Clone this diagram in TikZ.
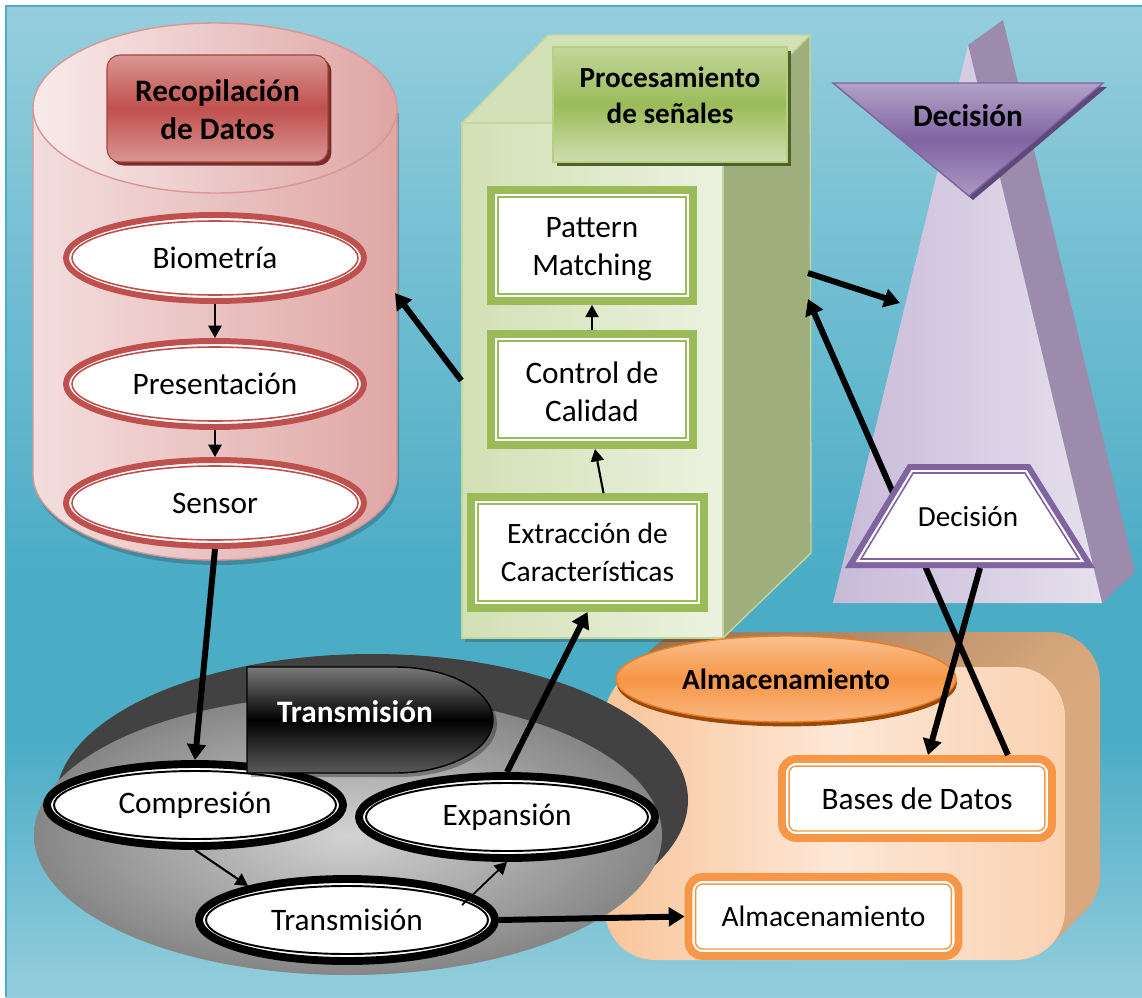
\documentclass[tikz,border=0pt]{standalone}
\usepackage{fontspec}
\setmainfont{Carlito}
\usetikzlibrary{arrows.meta,shadows,calc,shapes.geometric}

\definecolor{bgLight}{HTML}{95CEDD}
\definecolor{bgDark}{HTML}{4BACC6}
\definecolor{redMain}{HTML}{C0504D}
\definecolor{redLight}{HTML}{D99694}
\definecolor{redDark}{HTML}{7A2D2B}
\definecolor{cylA}{HTML}{F3DEDD}
\definecolor{cylB}{HTML}{DFA7A6}
\definecolor{greenMain}{HTML}{9BBB59}
\definecolor{greenLight}{HTML}{C3D69B}
\definecolor{greenPale}{HTML}{ECF2E0}
\definecolor{greenFrontL}{HTML}{D2E0B5}
\definecolor{greenTop}{HTML}{D3E1B8}
\definecolor{greenSide}{HTML}{9EAE7C}
\definecolor{greenDark}{HTML}{4F6228}
\definecolor{purpleMain}{HTML}{8064A2}
\definecolor{purpleLight}{HTML}{B3A2C7}
\definecolor{purpleDark}{HTML}{5F497A}
\definecolor{pyrFront}{HTML}{E6E0ED}
\definecolor{pyrEdge}{HTML}{C7BAD8}
\definecolor{pyrSide}{HTML}{9D8BAE}
\definecolor{orangeMain}{HTML}{F79646}
\definecolor{orangeLight}{HTML}{FAC090}
\definecolor{orangeDark}{HTML}{E46C0A}
\definecolor{orangeShadow}{HTML}{984807}
\definecolor{peachA}{HTML}{F9C59A}
\definecolor{peachB}{HTML}{FDE7D6}
\definecolor{peachC}{HTML}{FAD2B2}
\definecolor{brownA}{HTML}{94704F}
\definecolor{brownB}{HTML}{D9A87E}
\definecolor{discDark}{HTML}{424242}
\definecolor{discLight}{HTML}{D3D3D3}
\definecolor{discEdge}{HTML}{868686}
\definecolor{hdrGrayTop}{HTML}{7A7A7A}
\definecolor{hdrGrayBot}{HTML}{5A5A5A}

% backdrop: light at the top, deepest teal in the lower third, light again at the bottom
\pgfdeclareverticalshading{backdrop}{100bp}{color(0bp)=(bgLight); color(25bp)=(bgLight);
  color(38bp)=(bgDark); color(46bp)=(bgDark); color(75bp)=(bgLight); color(100bp)=(bgLight)}

\tikzset{
  txt/.style={font=\fontsize{17.8}{21.5}\selectfont, align=center, text=black},
  hdr/.style={font=\bfseries\fontsize{17.8}{21.5}\selectfont, align=center, text=black},
  arrowThick/.style={line width=3.4pt, -{Triangle[length=9pt,width=10.5pt]}},
  arrowThin/.style={line width=1.2pt, -{Triangle[length=7pt,width=7.5pt]}},
  redOval/.style={ellipse, draw=redMain, line width=3.4pt, fill=white,
    minimum width=5.96cm, minimum height=1.72cm, inner sep=0pt, txt},
  blackOval/.style={ellipse, draw=black, line width=4.5pt, fill=white,
    minimum width=5.92cm, minimum height=1.64cm, inner sep=0pt, txt},
  greenBox/.style={rectangle, draw=greenMain, line width=4.5pt, fill=white,
    minimum width=4.04cm, minimum height=2.22cm, inner sep=0pt, txt},
  orangeBox/.style={rectangle, rounded corners=0.28cm, draw=orangeMain, line width=4.5pt,
    fill=white, minimum width=5.4cm, minimum height=1.58cm, inner sep=0pt, txt},
  redHdr/.style={rectangle, rounded corners=0.26cm, minimum width=4.42cm, minimum height=2.14cm,
    top color=redLight, bottom color=redLight, middle color=redMain,
    draw=redMain!85!black, line width=0.6pt,
    drop shadow={shadow xshift=2pt, shadow yshift=-2pt, fill=redDark, opacity=1}},
  greenHdr/.style={rectangle, minimum width=4.68cm, minimum height=2.3cm,
    top color=greenLight, bottom color=greenLight!80!white, middle color=greenMain,
    draw=greenLight!70!greenMain, line width=0.8pt,
    drop shadow={shadow xshift=2pt, shadow yshift=-2pt, fill=greenDark, opacity=1}},
  orangeHdr/.style={ellipse, minimum width=6.8cm, minimum height=1.72cm, inner sep=0pt,
    top color=orangeLight, bottom color=orangeLight!80!orangeMain, middle color=orangeMain,
    draw=orangeDark!60!orangeMain, line width=0.8pt,
    drop shadow={shadow xshift=0.5pt, shadow yshift=-2.5pt, fill=orangeShadow, opacity=1},
    hdr, font=\bfseries\fontsize{16.7}{20}\selectfont},
  procFace/.style={rectangle, minimum width=5.22cm, minimum height=10.3cm, inner sep=0pt,
    left color=greenFrontL, right color=greenPale, draw=greenLight, line width=0.8pt},
}

\begin{document}
\begin{tikzpicture}[x=0.02cm,y=-0.02cm]
\useasboundingbox (0,0) rectangle (1142,997);
\fill[white] (0,0) rectangle (1142,997);
\shade[shading=backdrop] (6,6) rectangle (1142,997);
\draw[bgDark, line width=1.2pt] (6,997) -- (6,6) -- (1142,6);

% ---------- storage block: extruded rounded slab ----------
\foreach \k in {35,33,...,1} {
  \shade[left color=brownA, right color=brownB, rounded corners=1cm]
    (605+\k,667-\k) rectangle ++(460,293);
}
\shade[left color=peachA, right color=peachC, middle color=peachB, rounded corners=1cm]
  (605,667) rectangle (1065,960);

% ---------- data acquisition cylinder ----------
\fill[black, opacity=.2] (35,113) -- (35,480) arc[start angle=180, end angle=0, x radius=182, y radius=85] -- (399,113) -- cycle;
\shade[left color=cylA, right color=cylB, draw=redLight, line width=.8pt]
  (33,108) -- (33,475) arc[start angle=180, end angle=0, x radius=182, y radius=85] -- (397,108) -- cycle;
\shade[left color=cylA!60!white, right color=cylB!90!redLight, draw=redLight, line width=.8pt]
  (215,108) ellipse [x radius=182, y radius=85];
\coordinate (cylR) at (395,293);

\node[redHdr] (recHdr) at (217.5,108.5) {};
\node[hdr] (recText) at (217.5,110) {Recopilación\\de Datos};

\node[redOval] (bio) at (215,258) {Biometría};
\draw[redMain, line width=0.9pt] (bio.center) ellipse [x radius=143, y radius=37];
\node[redOval] (pres) at (215,384) {Presentación};
\draw[redMain, line width=0.9pt] (pres.center) ellipse [x radius=143, y radius=37];
\node[redOval] (sens) at (215,503) {Sensor};
\draw[redMain, line width=0.9pt] (sens.center) ellipse [x radius=143, y radius=37];

% ---------- signal processing block ----------
\fill[greenTop, draw=greenLight, line width=.8pt] (462,123) -- (548,35) -- (810,35) -- (723,123) -- cycle;
\fill[greenSide, draw=greenLight, line width=.8pt] (723,123) -- (810,35) -- (811,553) -- (723,638) -- cycle;
\fill[black, opacity=.2] (465,638) rectangle (726,642);
\node[procFace] (procF) at (592.5,380.5) {};
\coordinate (procS1) at (808,273);
\coordinate (procS2) at (808,299);

\node[greenHdr] (procHdr) at (670,104.5) {};
\node[hdr, font=\bfseries\fontsize{16.6}{20.5}\selectfont] (procText) at (670,95) {Procesamiento\\de señales};

\node[greenBox] (patt) at (592,245.5) {};
\node[txt] (pattText) at (592,249) {Pattern\\Matching};
\draw[greenMain, line width=0.8pt] ([shift={(11,11)}]patt.north west) rectangle ([shift={(-11,-11)}]patt.south east);
\node[greenBox] (ctrl) at (592,389.5) {};
\node[txt] (ctrlText) at (592,392) {Control de\\Calidad};
\draw[greenMain, line width=0.8pt] ([shift={(11,11)}]ctrl.north west) rectangle ([shift={(-11,-11)}]ctrl.south east);
\node[greenBox, minimum width=4.66cm, font=\fontsize{16.8}{21.5}\selectfont] (extr) at (587.5,552.5) {Extracción de\\Características};
\draw[greenMain, line width=0.8pt] ([shift={(11,11)}]extr.north west) rectangle ([shift={(-11,-11)}]extr.south east);

% ---------- decision pyramid ----------
\fill[pyrSide] (968,45) -- (1003,20) -- (1135,572) -- (1102,603) -- cycle;
\shade[left color=pyrEdge, right color=pyrFront] (968,45) -- (833,603) -- (1102,603) -- cycle;
\coordinate (pyrL) at (900,303);

\fill[purpleDark] (837,87) -- (1107,87) -- (973,200) -- cycle;
\shade[top color=purpleLight, bottom color=purpleLight!85!purpleMain, middle color=purpleMain,
  draw=purpleMain, line width=.8pt] (833,83) -- (1103,83) -- (969,196) -- cycle;
\node[hdr] (decHdr) at (968,116) {Decisión};

% ---------- storage labels ----------
\node[orangeHdr] (almHdr) at (786,679) {Almacenamiento};
\node[orangeBox] (bases) at (917,798.5) {Bases de Datos};
\draw[orangeMain, line width=0.8pt, rounded corners=0.14cm] ([shift={(11,11)}]bases.north west) rectangle ([shift={(-11,-11)}]bases.south east);
\node[orangeBox, font=\fontsize{16.8}{19}\selectfont] (almB) at (823.5,916.5) {Almacenamiento};
\draw[orangeMain, line width=0.8pt, rounded corners=0.14cm] ([shift={(11,11)}]almB.north west) rectangle ([shift={(-11,-11)}]almB.south east);

% ---------- transmission disc ----------
\fill[discDark] (372,800) ellipse [x radius=316, y radius=146];
\shade[inner color=discLight, outer color=discEdge] (348,835) ellipse [x radius=314, y radius=140];

\node[blackOval] (compr) at (195,805) {Compresión};
\draw[black, line width=1.1pt] (compr.center) ellipse [x radius=141, y radius=34];
\node[blackOval] (exp) at (507,817) {Expansión};
\draw[black, line width=1.1pt] (exp.center) ellipse [x radius=141, y radius=34];
\node[blackOval] (tx) at (347,920) {Transmisión};
\draw[black, line width=1.1pt] (tx.center) ellipse [x radius=141, y radius=34];

\fill[black, opacity=.3] (251,671) -- (399,671) arc[start angle=-90, end angle=90, x radius=98, y radius=53] -- (251,777) -- cycle;
\shade[top color=hdrGrayTop, bottom color=hdrGrayBot, middle color=black, draw=black, line width=.8pt]
  (247,667) -- (395,667) arc[start angle=-90, end angle=90, x radius=98, y radius=53] -- (247,773) -- cycle;
\node[hdr, text=white] (txHdr) at (355,712) {Transmisión};

% ---------- connectors ----------
\draw[arrowThin] (bio.south) -- (pres.north);
\draw[arrowThin] (pres.south) -- (sens.north);
\draw[arrowThick] (sens.south) -- (compr.north);
\draw[arrowThin] (ctrl.north) -- (patt.south);
\draw[arrowThin] ($(extr.north)+(16,0)$) -- ($(ctrl.south)+(3,0)$);
\draw[arrowThin] (compr.south) -- (tx.161);
\draw[arrowThin, line width=1pt] ($(tx.center)+(115,-15)$) -- (exp.south);
\draw[arrowThick] (exp.north) -- (extr.south);
\draw[arrowThick] (tx.east) -- (almB.west);
\draw[arrowThick] (procF.west) -- (cylR);
\draw[arrowThick] (procS1) -- (pyrL);
\draw[arrowThick] ($(bases.north east)+(-48,0)$) -- (procS2);

% decision stage sits over the returning line
\fill[purpleMain] (908,464) -- (1030,464) -- (1095,568) -- (845,568) -- cycle;
\fill[white] (911.4,470) -- (1026.6,470) -- (1084.3,562) -- (855.7,562) -- cycle;
\draw[purpleMain, line width=0.9pt] (913.1,473) -- (1024.9,473) -- (1079,559) -- (861,559) -- cycle;
\node[txt, font=\fontsize{16.6}{20}\selectfont] (dec) at (968,517) {Decisión};
\coordinate (decB) at (980,568);
\draw[arrowThick] (decB) -- ($(bases.north)+(11,0)$);
\end{tikzpicture}
\end{document}
